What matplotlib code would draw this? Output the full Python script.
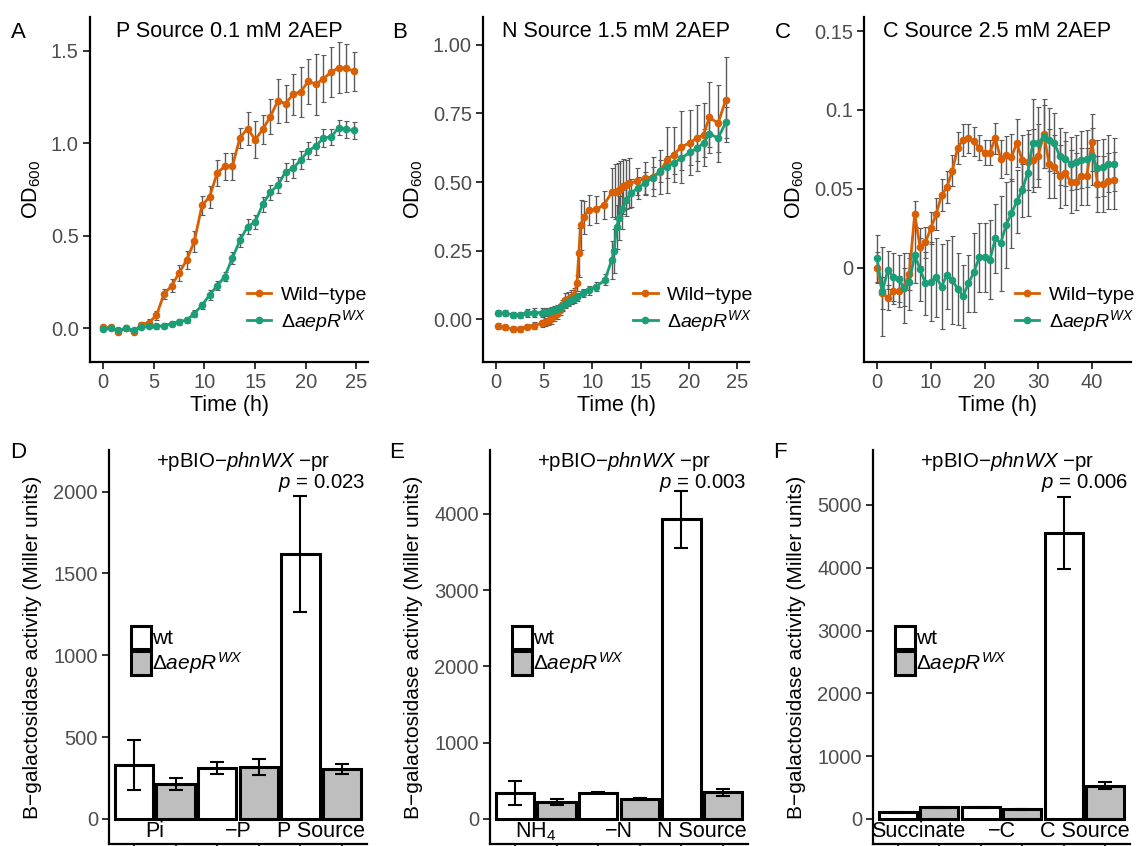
import numpy as np
import matplotlib
matplotlib.use("Agg")
import matplotlib.pyplot as plt
from matplotlib.lines import Line2D
from matplotlib.patches import Patch
import matplotlib.transforms as mtransforms

plt.rcParams['font.family'] = ['Liberation Sans', 'DejaVu Sans']
plt.rcParams['mathtext.fontset'] = 'custom'
plt.rcParams['mathtext.rm'] = 'Liberation Sans'
plt.rcParams['mathtext.it'] = 'Liberation Sans:italic'
plt.rcParams['mathtext.bf'] = 'Liberation Sans:bold'

WT_COLOR = '#D95F02'
MUT_COLOR = '#1B9E77'
MUT_LABEL = r'$\Delta\mathit{aepR}^{\mathit{WX}}$'

TICK_FS = 14.5
LABEL_FS = 15.5
LEGEND_FS = 14

# ---- Panel A: P source growth ----
time_a = [0, 0.75, 1.5, 2.25, 3, 3.75, 4.5, 5.25, 6, 6.75, 7.5, 8.25, 9, 9.75,
          10.5, 11.25, 12, 12.75, 13.5, 14.25, 15, 15.75, 16.5, 17.25, 18, 18.75,
          19.5, 20.25, 21, 21.75, 22.5, 23.25, 24, 24.75]
wt_a = [0.005, 0.005, -0.02, 0.0, -0.02, 0.02, 0.03, 0.07, 0.185, 0.23, 0.30, 0.37,
        0.47, 0.665, 0.71, 0.84, 0.875, 0.875, 1.03, 1.08, 1.02, 1.075, 1.145, 1.23,
        1.215, 1.265, 1.28, 1.335, 1.32, 1.35, 1.385, 1.41, 1.405, 1.39]
wt_a_err = [0.01, 0.01, 0.01, 0.01, 0.01, 0.015, 0.02, 0.025, 0.027, 0.035, 0.045, 0.05,
            0.055, 0.05, 0.06, 0.07, 0.075, 0.075, 0.055, 0.09, 0.1, 0.08, 0.095, 0.12,
            0.1, 0.11, 0.135, 0.12, 0.165, 0.125, 0.135, 0.14, 0.13, 0.105]
mut_a = [-0.005, 0.0, -0.01, 0.0, -0.01, 0.005, 0.01, 0.01, 0.015, 0.025, 0.035, 0.045,
         0.08, 0.125, 0.18, 0.23, 0.28, 0.38, 0.475, 0.55, 0.575, 0.67, 0.735, 0.775,
         0.845, 0.865, 0.91, 0.96, 0.985, 1.03, 1.035, 1.085, 1.075, 1.07]
mut_a_err = [0.005, 0.005, 0.005, 0.005, 0.008, 0.01, 0.01, 0.012, 0.012, 0.015, 0.015,
             0.015, 0.018, 0.02, 0.025, 0.025, 0.025, 0.03, 0.035, 0.04, 0.04, 0.04, 0.04,
             0.045, 0.05, 0.05, 0.05, 0.045, 0.05, 0.05, 0.045, 0.04, 0.045, 0.045]

# ---- Panel B: N source growth ----
time_b_wt = [0.25, 1.0, 1.75, 2.5, 3.25, 4.0, 4.75, 5.1, 5.4, 5.7, 6.0, 6.3, 6.6, 6.9,
             7.2, 7.5, 7.8, 8.1, 8.4, 8.6, 8.8, 9.1, 9.6, 10.4, 11.2, 12.0, 12.3, 12.6,
             12.9, 13.2, 13.5, 13.8, 14.6, 15.4, 16.3, 17.0, 17.7, 18.4, 19.2, 20.1,
             20.8, 21.5, 22.1, 23.0, 23.8]
wt_b = [-0.024, -0.030, -0.036, -0.035, -0.027, -0.023, -0.015, -0.010, -0.005, 0.0,
        0.01, 0.02, 0.035, 0.05, 0.07, 0.075, 0.08, 0.09, 0.131, 0.243, 0.344, 0.372,
        0.398, 0.400, 0.417, 0.462, 0.465, 0.468, 0.475, 0.484, 0.490, 0.496, 0.502,
        0.514, 0.520, 0.538, 0.580, 0.600, 0.627, 0.644, 0.660, 0.672, 0.736, 0.714, 0.800]
wt_b_err = [0.01, 0.01, 0.01, 0.01, 0.01, 0.012, 0.012, 0.015, 0.015, 0.018, 0.018, 0.02,
            0.02, 0.02, 0.025, 0.025, 0.025, 0.025, 0.03, 0.09, 0.09, 0.06, 0.055, 0.05,
            0.05, 0.09, 0.1, 0.1, 0.1, 0.1, 0.09, 0.09, 0.05, 0.06, 0.07, 0.08, 0.12, 0.1,
            0.13, 0.12, 0.12, 0.115, 0.13, 0.14, 0.155]
time_b_mut = [0.25, 1.0, 1.75, 2.5, 3.25, 4.0, 4.75, 5.1, 5.4, 5.7, 6.0, 6.3, 6.6, 6.9,
              7.2, 7.5, 7.8, 8.1, 8.4, 9.0, 9.7, 10.4, 11.3, 12.0, 12.25, 12.5, 12.75,
              13.1, 13.5, 14.0, 14.7, 15.4, 16.3, 17.0, 17.7, 18.4, 19.2, 20.1, 20.8,
              21.5, 22.1, 23.0, 23.8]
mut_b = [0.022, 0.022, 0.016, 0.016, 0.022, 0.024, 0.024, 0.025, 0.027, 0.03, 0.033,
         0.037, 0.042, 0.047, 0.055, 0.062, 0.07, 0.075, 0.08, 0.095, 0.105, 0.119, 0.143,
         0.216, 0.25, 0.335, 0.368, 0.40, 0.435, 0.46, 0.478, 0.496, 0.516, 0.54, 0.556,
         0.569, 0.587, 0.608, 0.623, 0.642, 0.676, 0.66, 0.717]
mut_b_err = [0.012, 0.012, 0.012, 0.012, 0.015, 0.015, 0.015, 0.015, 0.015, 0.015, 0.015,
             0.015, 0.015, 0.015, 0.015, 0.015, 0.015, 0.015, 0.015, 0.015, 0.015, 0.015,
             0.02, 0.07, 0.08, 0.08, 0.08, 0.07, 0.06, 0.05, 0.04, 0.04, 0.04, 0.04, 0.04,
             0.04, 0.045, 0.045, 0.045, 0.05, 0.05, 0.05, 0.055]

# ---- Panel C: C source growth ----
time_c = [0, 1, 2, 3, 4, 5, 6, 7, 8, 9, 10, 11, 12, 13, 14, 15, 16, 17, 18, 19, 20, 21,
          22, 23, 24, 25, 26, 27, 28, 29, 30, 31, 32, 33, 34, 35, 36, 37, 38, 39, 40,
          41, 42, 43, 44]
wt_c = [0.0, -0.016, -0.019, -0.015, -0.015, -0.012, -0.004, 0.034, 0.013, 0.016, 0.025,
        0.034, 0.046, 0.051, 0.0615, 0.076, 0.081, 0.082, 0.080, 0.076, 0.073, 0.073,
        0.082, 0.069, 0.0715, 0.070, 0.079, 0.068, 0.067, 0.068, 0.071, 0.085, 0.066,
        0.064, 0.058, 0.060, 0.0545, 0.0545, 0.058, 0.058, 0.0795, 0.053, 0.053, 0.055,
        0.0555]
wt_c_err = [0.01, 0.01, 0.008, 0.008, 0.01, 0.012, 0.01, 0.008, 0.012, 0.01, 0.01, 0.01,
            0.01, 0.01, 0.01, 0.01, 0.01, 0.009, 0.009, 0.008, 0.008, 0.008, 0.01, 0.012,
            0.012, 0.015, 0.015, 0.016, 0.018, 0.02, 0.02, 0.022, 0.022, 0.02, 0.02, 0.02,
            0.02, 0.018, 0.018, 0.018, 0.018, 0.018, 0.018, 0.018, 0.018]
mut_c = [0.006, -0.015, -0.0015, -0.006, -0.007, -0.013, -0.009, 0.008, -0.001, -0.010,
         -0.009, -0.006, -0.012, -0.0045, -0.008, -0.0135, -0.018, -0.010, -0.003, 0.0065,
         0.0065, 0.005, 0.0185, 0.0155, 0.027, 0.0345, 0.042, 0.049, 0.060, 0.079, 0.079,
         0.083, 0.081, 0.079, 0.0705, 0.069, 0.066, 0.067, 0.0685, 0.069, 0.0705, 0.063,
         0.0635, 0.066, 0.0655]
mut_c_err = [0.015, 0.028, 0.012, 0.015, 0.015, 0.022, 0.018, 0.018, 0.02, 0.02, 0.025,
             0.025, 0.027, 0.022, 0.028, 0.023, 0.02, 0.018, 0.025, 0.022, 0.022, 0.025,
             0.022, 0.03, 0.027, 0.022, 0.02, 0.017, 0.027, 0.028, 0.023, 0.02, 0.02, 0.019,
             0.018, 0.017, 0.017, 0.017, 0.018, 0.018, 0.018, 0.018, 0.018, 0.018, 0.017]

# ---- Panels D-F: beta-galactosidase ----
groups_d = ['Pi', '\u2212P', 'P Source']
wt_d = [330, 310, 1620]
wt_d_err = [155, 37, 353]
mut_d = [214, 316, 305]
mut_d_err = [35, 48, 33]

groups_e = ['NH$_4$', '\u2212N', 'N Source']
wt_e = [337, 345, 3930]
wt_e_err = [160, 5, 370]
mut_e = [219, 262, 350]
mut_e_err = [40, 12, 44]

groups_f = ['Succinate', '\u2212C', 'C Source']
wt_f = [106, 186, 4559]
wt_f_err = [6, 8, 573]
mut_f = [186, 154, 531]
mut_f_err = [8, 8, 60]

p_values = ['0.023', '0.003', '0.006']


def style_axes(ax):
    for s in ['top', 'right']:
        ax.spines[s].set_visible(False)
    for s in ['left', 'bottom']:
        ax.spines[s].set_linewidth(1.6)
    ax.tick_params(axis='both', width=1.4, length=5, labelsize=TICK_FS,
                   labelcolor='#4D4D4D', color='#333333', pad=3)


def growth_panel(ax, tw, yw, ew, tm, ym, em, title, xlim, ylim, xticks, yticks, yticklabels):
    ekw = dict(fmt='none', ecolor='#5A5A5A', elinewidth=1.0, capsize=1.8, capthick=0.8, zorder=2)
    ax.errorbar(tw, yw, yerr=ew, **ekw)
    ax.errorbar(tm, ym, yerr=em, **ekw)
    ax.plot(tw, yw, '-o', color=WT_COLOR, lw=2, ms=4.5, zorder=3)
    ax.plot(tm, ym, '-o', color=MUT_COLOR, lw=2, ms=4.5, zorder=3)
    ax.set_xlim(*xlim)
    ax.set_ylim(*ylim)
    ax.set_xticks(xticks)
    ax.set_yticks(yticks)
    ax.set_yticklabels(yticklabels)
    ax.set_xlabel('Time (h)', fontsize=LABEL_FS, labelpad=2)
    ax.set_ylabel(r'OD$_{600}$', fontsize=LABEL_FS, labelpad=6)
    ax.text(0.5, 0.957, title, transform=ax.transAxes, ha='center', va='center',
            fontsize=LABEL_FS)
    style_axes(ax)
    handles = [Line2D([], [], color=WT_COLOR, marker='o', lw=2, ms=4.5),
               Line2D([], [], color=MUT_COLOR, marker='o', lw=2, ms=4.5)]
    ax.legend(handles, ['Wild\u2212type', MUT_LABEL], loc='center left',
              bbox_to_anchor=(0.565, 0.15), frameon=False, fontsize=LEGEND_FS,
              handlelength=1.25, handletextpad=0.5, labelspacing=0.2, borderpad=0,
              borderaxespad=0)


def bar_panel(ax, groups, wt, wt_err, mut, mut_err, pval, ylim, yticks):
    x = np.arange(len(groups) * 2)
    vals, errs, cols = [], [], []
    for i in range(len(groups)):
        vals += [wt[i], mut[i]]
        errs += [wt_err[i], mut_err[i]]
        cols += ['white', '#BEBEBE']
    ax.bar(x, vals, width=0.92, color=cols, edgecolor='black', linewidth=2.2, zorder=2)
    ax.errorbar(x, vals, yerr=errs, fmt='none', ecolor='black', elinewidth=1.5,
                capsize=5, capthick=1.5, zorder=3)
    ax.set_xlim(-0.6, 5.6)
    ax.set_ylim(*ylim)
    ax.set_xticks(x)
    ax.set_xticklabels([])
    ax.set_yticks(yticks)
    trans = mtransforms.blended_transform_factory(ax.transData, ax.transAxes)
    for i, g in enumerate(groups):
        ax.text(2 * i + 0.5, 0.032, g, transform=trans, ha='center', va='center',
                fontsize=LABEL_FS)
    ax.text(0.52, 0.972, '+pBIO\u2212' + r'$\mathit{phnWX}$' + ' \u2212pr',
            transform=ax.transAxes, ha='center', va='center', fontsize=14.7)
    ax.text(4.5, 0.916, r'$\mathit{p}$ = ' + pval, transform=trans,
            ha='center', va='center', fontsize=14.7)
    ax.set_ylabel('B\u2212galactosidase activity (Miller units)', fontsize=15, labelpad=8)
    style_axes(ax)
    handles = [Patch(facecolor='white', edgecolor='black', linewidth=2.2),
               Patch(facecolor='#BEBEBE', edgecolor='black', linewidth=2.2)]
    ax.legend(handles, ['wt', MUT_LABEL], loc='center left', bbox_to_anchor=(0.085, 0.49),
              frameon=False, fontsize=15, handlelength=0.95, handleheight=1.35,
              handletextpad=0.05, labelspacing=0.05, borderpad=0, borderaxespad=0)


fig = plt.figure(figsize=(11.43, 8.46), dpi=100)

ax_a = fig.add_axes([0.0787, 0.5721, 0.2433, 0.408])
ax_b = fig.add_axes([0.4226, 0.5721, 0.2327, 0.408])
ax_c = fig.add_axes([0.7562, 0.5721, 0.2331, 0.408])
ax_d = fig.add_axes([0.0954, 0.0024, 0.2257, 0.4657])
ax_e = fig.add_axes([0.4287, 0.0024, 0.2257, 0.4657])
ax_f = fig.add_axes([0.7638, 0.0024, 0.2249, 0.4657])

growth_panel(ax_a, time_a, wt_a, wt_a_err, time_a, mut_a, mut_a_err,
             'P Source 0.1 mM 2AEP', (-1.31, 26.15), (-0.182, 1.684),
             [0, 5, 10, 15, 20, 25], [0, 0.5, 1.0, 1.5], ['0.0', '0.5', '1.0', '1.5'])
growth_panel(ax_b, time_b_wt, wt_b, wt_b_err, time_b_mut, mut_b, mut_b_err,
             'N Source 1.5 mM 2AEP', (-1.31, 26.2), (-0.156, 1.102),
             [0, 5, 10, 15, 20, 25], [0, 0.25, 0.5, 0.75, 1.0],
             ['0.00', '0.25', '0.50', '0.75', '1.00'])
growth_panel(ax_c, time_c, wt_c, wt_c_err, time_c, mut_c, mut_c_err,
             'C Source 2.5 mM 2AEP', (-2.37, 47.2), (-0.0598, 0.159),
             [0, 10, 20, 30, 40], [0, 0.05, 0.1, 0.15], ['0', '0.05', '0.1', '0.15'])

bar_panel(ax_d, groups_d, wt_d, wt_d_err, mut_d, mut_d_err, p_values[0],
          (-153, 2254), [0, 500, 1000, 1500, 2000])
bar_panel(ax_e, groups_e, wt_e, wt_e_err, mut_e, mut_e_err, p_values[1],
          (-328, 4839), [0, 1000, 2000, 3000, 4000])
bar_panel(ax_f, groups_f, wt_f, wt_f_err, mut_f, mut_f_err, p_values[2],
          (-398, 5876), [0, 1000, 2000, 3000, 4000, 5000])

for lab, (px, py) in zip('ABCDEF', [(18, 32), (400, 32), (783, 32),
                                     (18, 452), (397, 452), (780, 452)]):
    fig.text(px / 1143, 1 - py / 846, lab, fontsize=16, ha='center', va='center')

fig.savefig('out.png', dpi=100)
